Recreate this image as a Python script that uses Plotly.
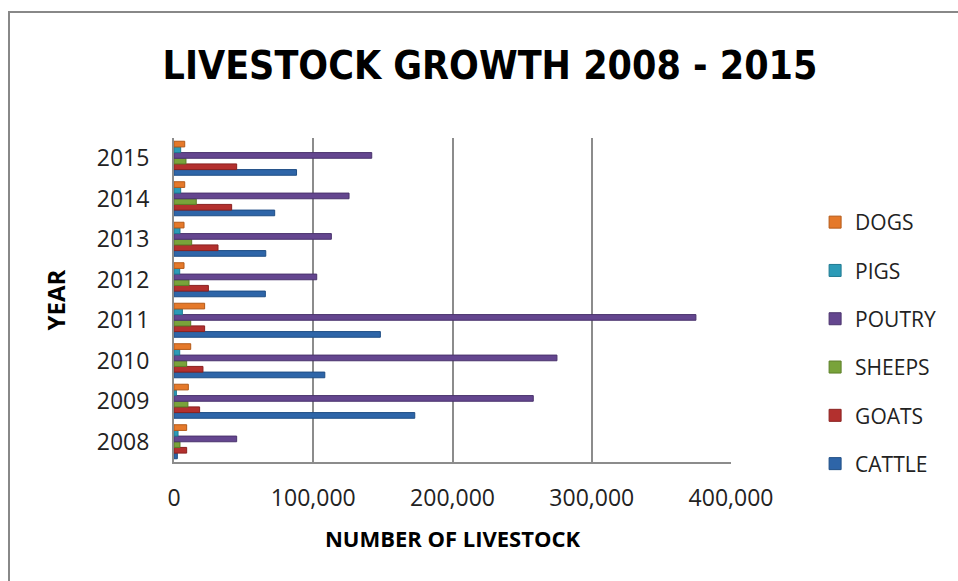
import plotly.graph_objects as go

years = ["2008", "2009", "2010", "2011", "2012", "2013", "2014", "2015"]
cattle = [2400, 172900, 108300, 148200, 65600, 65900, 72300, 88000]
goats = [9100, 18400, 20800, 22000, 24700, 31600, 41400, 45000]
sheeps = [4300, 10000, 9100, 12000, 10800, 12700, 16000, 8600]
poutry = [45000, 258000, 275000, 374800, 102500, 113000, 125700, 142000]
pigs = [2900, 1700, 4100, 6000, 4100, 4300, 4800, 4800]
dogs = [9100, 10300, 12000, 22000, 7200, 7200, 7700, 7700]

series = [
    ("CATTLE", cattle, "#2E65A8", "#1F4E85"),
    ("GOATS", goats, "#B3302E", "#8A2220"),
    ("SHEEPS", sheeps, "#79A33A", "#5C7F28"),
    ("POUTRY", poutry, "#64468F", "#4A336D"),
    ("PIGS", pigs, "#2C9BB7", "#1F7A91"),
    ("DOGS", dogs, "#E5792A", "#B45A18"),
]

fig = go.Figure()
n = len(series)
for i, (name, vals, col, edge) in enumerate(series):
    fig.add_trace(go.Bar(
        y=years, x=vals, name=name, orientation="h",
        marker=dict(color=col, line=dict(color=edge, width=1)),
        legendgroup=name, legendrank=n - i,
    ))

L, R, T, B = 174, 227, 138, 119
pw = 958 - L - R
ph = 581 - T - B

fig.update_layout(
    width=958, height=581,
    margin=dict(l=L, r=R, t=T, b=B, autoexpand=False),
    paper_bgcolor="white", plot_bgcolor="white",
    barmode="group", bargap=0.16, bargroupgap=0.0,
    title=dict(text="<b>LIVESTOCK GROWTH 2008 - 2015</b>", x=0.5115, xanchor="center",
               y=0.888, yanchor="middle",
               font=dict(family="DejaVu Sans Condensed", size=39, color="black")),
    legend=dict(traceorder="grouped", x=1.151, xanchor="left", y=0.8025, yanchor="top",
                font=dict(family="Open Sans", size=21, color="#222"),
                tracegroupgap=18, itemwidth=30),
    font=dict(family="Open Sans", color="#222"),
    xaxis=dict(range=[0, 400000], tickvals=[0, 100000, 200000, 300000, 400000],
               ticktext=["0", "100,000", "200,000", "300,000", "400,000"],
               showgrid=True, gridcolor="#8c8c8c", gridwidth=2,
               showline=True, linecolor="#8c8c8c", linewidth=2,
               zeroline=False, ticks="outside", ticklen=14, tickcolor="rgba(0,0,0,0)",
               automargin=False,
               tickfont=dict(size=23, family="Open Sans", color="#222"),
               title=dict(text="<b>NUMBER OF LIVESTOCK</b>", standoff=20,
                          font=dict(size=22, family="Open Sans", color="black"))),
    yaxis=dict(showgrid=False, showline=True, linecolor="#8c8c8c", linewidth=2,
               ticks="outside", ticklen=18, tickcolor="rgba(0,0,0,0)",
               automargin=False,
               tickfont=dict(size=23, family="Open Sans", color="#222"),
               title=dict(text="<b>YEAR</b>", standoff=24,
                          font=dict(size=24, family="Open Sans", color="black"))),
    shapes=[dict(type="rect", xref="paper", yref="paper",
                 x0=(9 - L) / pw, x1=(965 - L) / pw,
                 y0=(T + ph - 590) / ph, y1=(T + ph - 12) / ph,
                 line=dict(color="#888888", width=2), fillcolor="rgba(0,0,0,0)", layer="below")],
)

fig.write_html("out.html", config={"displayModeBar": False},
               post_script="document.body.style.margin='0';")
